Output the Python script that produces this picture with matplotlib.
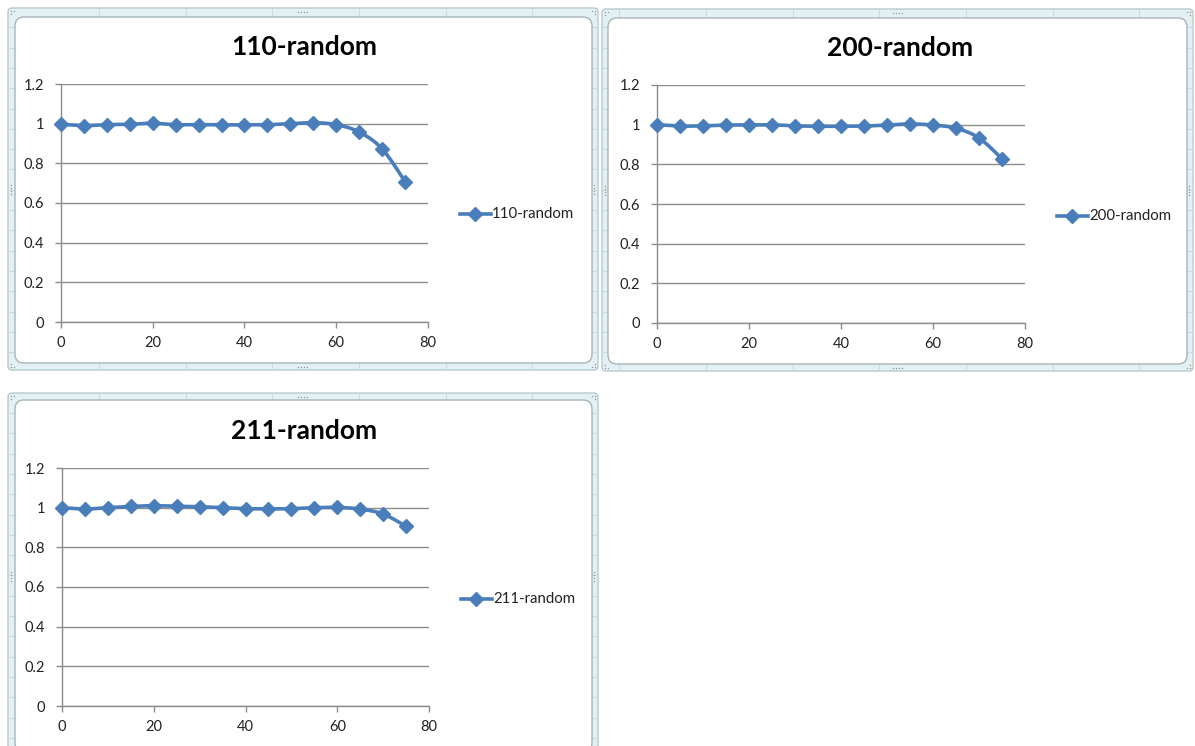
import numpy as np
import matplotlib
matplotlib.use("Agg")
import matplotlib.pyplot as plt
from matplotlib.patches import FancyBboxPatch

# ---- data ----
x_vals = [0, 5, 10, 15, 20, 25, 30, 35, 40, 45, 50, 55, 60, 65, 70, 75]
titles = ["110-random", "200-random", "211-random"]
y_110 = [0.997, 0.990, 0.995, 0.997, 1.002, 0.995, 0.995, 0.994, 0.994, 0.995, 1.000, 1.005, 0.995, 0.958, 0.873, 0.708]
y_200 = [1.000, 0.993, 0.994, 0.998, 0.999, 0.999, 0.994, 0.992, 0.992, 0.993, 0.998, 1.004, 0.998, 0.982, 0.933, 0.828]
y_211 = [1.000, 0.993, 1.000, 1.006, 1.010, 1.007, 1.005, 1.000, 0.995, 0.994, 0.995, 1.000, 1.001, 0.993, 0.968, 0.906]
series = [y_110, y_200, y_211]
y_ticks = [0, 0.2, 0.4, 0.6, 0.8, 1, 1.2]
y_tick_labels = ["0", "0.2", "0.4", "0.6", "0.8", "1", "1.2"]
x_ticks = [0, 20, 40, 60, 80]

W, H = 1195, 746
fig = plt.figure(figsize=(W / 100, H / 100), dpi=100)
plt.rcParams['font.family'] = ['Lato', 'DejaVu Sans']

bg = fig.add_axes([0, 0, 1, 1])
bg.set_xlim(0, W)
bg.set_ylim(H, 0)
bg.axis('off')

LINE_C = '#4A7EBB'
FRAME_FILL = '#E3F1F5'
FRAME_EDGE = '#B9C9CD'
GRID_FAINT = '#CCDDE1'


def smooth(xs, ys, n=12):
    xs = np.asarray(xs, float)
    ys = np.asarray(ys, float)
    P = np.column_stack([xs, ys])
    P = np.vstack([P[0], P, P[-1]])
    out = []
    for i in range(1, len(P) - 2):
        p0, p1, p2, p3 = P[i - 1], P[i], P[i + 1], P[i + 2]
        c1 = p1 + (p2 - p0) / 6.0
        c2 = p2 - (p3 - p1) / 6.0
        t = np.linspace(0, 1, n, endpoint=(i == len(P) - 3))[:, None]
        seg = ((1 - t) ** 3) * p1 + 3 * ((1 - t) ** 2) * t * c1 + 3 * (1 - t) * t ** 2 * c2 + t ** 3 * p2
        out.append(seg)
    out = np.vstack(out)
    return out[:, 0], out[:, 1]


def frame(x0, y0, x1, y1, ix0, iy0, ix1, iy1):
    bg.add_patch(FancyBboxPatch((x0, y0), x1 - x0, y1 - y0,
                                boxstyle="round,pad=0,rounding_size=4",
                                facecolor=FRAME_FILL, edgecolor=FRAME_EDGE, lw=1.0, zorder=1))
    for cx in np.arange(99, W, 86.7):
        if x0 < cx < x1:
            bg.plot([cx, cx], [y0 + 1, y1 - 1], color=GRID_FAINT, lw=0.8, zorder=1.5)
    for ry in np.arange(7, H, 20.3):
        if y0 < ry < y1:
            bg.plot([x0 + 1, x1 - 1], [ry, ry], color=GRID_FAINT, lw=0.8, zorder=1.5)
    bg.add_patch(FancyBboxPatch((ix0, iy0), ix1 - ix0, iy1 - iy0,
                                boxstyle="round,pad=0,rounding_size=9",
                                facecolor='white', edgecolor='#A9B4B8', lw=1.0, zorder=2))
    hc = '#8E989C'
    mx = (x0 + x1) / 2
    my = (y0 + y1) / 2
    ms = 0.9
    for dx in (-4.5, -1.5, 1.5, 4.5):
        bg.plot(mx + dx, y0 + 3.5, 's', ms=ms, color=hc, mew=0, zorder=3)
        bg.plot(mx + dx, y1 - 3.5, 's', ms=ms, color=hc, mew=0, zorder=3)
    for dy in (-4.5, -1.5, 1.5, 4.5):
        bg.plot(x0 + 3.5, my + dy, 's', ms=ms, color=hc, mew=0, zorder=3)
        bg.plot(x1 - 3.5, my + dy, 's', ms=ms, color=hc, mew=0, zorder=3)
    for (cx, cy, sx, sy) in [(x0, y0, 1, 1), (x1, y0, -1, 1), (x0, y1, 1, -1), (x1, y1, -1, -1)]:
        for (a, b) in [(3, 3), (6, 3), (3, 6)]:
            bg.plot(cx + sx * a, cy + sy * b, 's', ms=ms, color=hc, mew=0, zorder=3)


charts = [
    dict(outer=(8, 8, 598, 370), inner=(15, 17, 592, 363), plot=(61, 428, 322, 84),
         title=(304, 47), legend=(460, 214)),
    dict(outer=(602, 9, 1193, 371), inner=(608, 18, 1187, 364), plot=(657, 1025, 323, 85),
         title=(900, 48), legend=(1057, 216)),
    dict(outer=(8, 393, 598, 760), inner=(15, 400, 592, 752), plot=(62, 429, 706, 468),
         title=(304, 431), legend=(461, 599)),
]

for ch, title, ys in zip(charts, titles, series):
    frame(*ch['outer'], *ch['inner'])
    px0, px1, py0, py1 = ch['plot']
    ax = fig.add_axes([px0 / W, 1 - py0 / H, (px1 - px0) / W, (py0 - py1) / H])
    ax.set_zorder(5)
    ax.patch.set_alpha(0)
    ax.set_xlim(0, 80)
    ax.set_ylim(0, 1.2)
    ax.set_yticks(y_ticks)
    ax.set_yticklabels(y_tick_labels)
    ax.set_xticks(x_ticks)
    ax.grid(axis='y', color='#8C8C8C', lw=1.0)
    ax.grid(axis='x', visible=False)
    ax.set_axisbelow(True)
    for s in ('top', 'right'):
        ax.spines[s].set_visible(False)
    for s in ('left', 'bottom'):
        ax.spines[s].set_color('#8C8C8C')
        ax.spines[s].set_linewidth(1.0)
    ax.tick_params(axis='both', direction='out', length=4, width=1.0, color='#8C8C8C',
                   labelsize=10.5, labelcolor='#222222')
    ax.tick_params(axis='y', pad=8)
    ax.tick_params(axis='x', pad=6)
    sx, sy = smooth(x_vals, ys)
    ax.plot(sx, sy, color=LINE_C, lw=2.6, solid_capstyle='round', clip_on=False, zorder=3)
    ax.plot(x_vals, ys, linestyle='none', marker='D', ms=7.3, color=LINE_C,
            markeredgecolor=LINE_C, clip_on=False, zorder=4)
    tx, ty = ch['title']
    bg.text(tx, ty, title, ha='center', va='center', fontsize=19, fontweight='bold',
            color='black', zorder=6)
    lx, ly = ch['legend']
    bg.plot([lx, lx + 31], [ly, ly], color=LINE_C, lw=2.6, zorder=6)
    bg.plot(lx + 15.5, ly, marker='D', ms=7.3, color=LINE_C, zorder=6)
    bg.text(lx + 32, ly, title, ha='left', va='center', fontsize=10.8, color='#222222', zorder=6)

fig.savefig('out.png', dpi=100)
